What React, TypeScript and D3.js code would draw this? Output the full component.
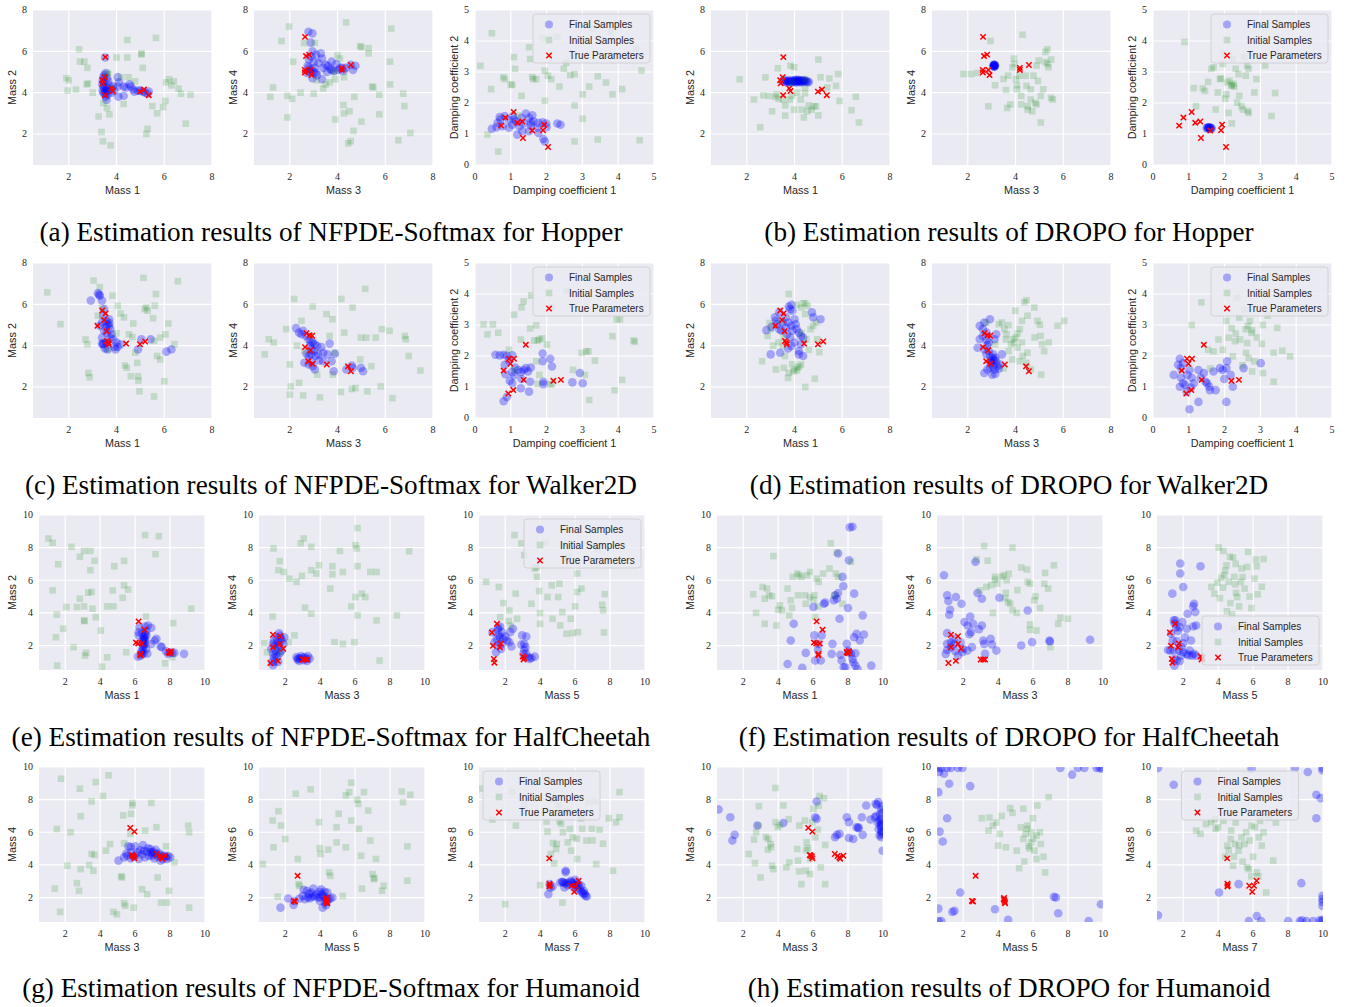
import React from "react";
import * as d3 from "d3";

type Pt = [number, number];

// ---- true parameters (shared by the NFPDE-Softmax / DROPO pairs) ----
const hopperTrueM12: Pt[] = [[3.53,5.72],[3.5,4.75],[3.4,4.6],[3.42,4.45],[3.78,4.2],[3.83,4.08],[3.52,3.88],[4.98,4.05],[5.15,4.15],[5.35,3.88]];
const hopperTrueM34: Pt[] = [[2.64,6.7],[2.68,5.77],[2.81,5.84],[2.63,5.1],[2.63,4.98],[2.86,5.1],[2.91,4.85],[4.18,5.2],[4.18,5.1],[4.56,5.34]];
const hopperTrueDamp: Pt[] = [[0.73,1.27],[0.85,1.53],[1.08,1.71],[1.18,1.36],[1.32,1.4],[1.34,0.87],[1.6,1.11],[1.93,1.3],[1.9,1.12],[2.04,0.58]];
const walkerTrueM12: Pt[] = [[3.4,5.7],[3.54,5.56],[3.48,5.24],[3.2,4.96],[3.58,4.7],[3.6,4.23],[3.66,4.15],[3.68,4.07],[4.4,4.1],[4.98,4.07],[5.2,4.2]];
const walkerTrueM34: Pt[] = [[2.7,4.6],[2.83,4.5],[2.94,4.48],[2.64,3.93],[2.86,3.78],[2.77,3.25],[2.95,3.13],[3.55,3.09],[4.44,3.0],[4.56,2.76]];
const walkerTrueDamp: Pt[] = [[0.8,1.53],[0.95,1.91],[1.09,1.91],[0.99,1.75],[0.93,0.79],[1.07,0.9],[1.42,2.36],[1.36,1.23],[2.19,1.2],[2.4,1.23]];
const cheetahTrueM12: Pt[] = [[6.2,3.48],[6.54,2.97],[6.05,2.18],[6.18,2.12],[6.38,2.12],[6.3,1.48],[6.3,1.4],[7.92,1.6],[8.0,1.52],[8.05,1.65],[7.95,1.55]];
const cheetahTrueM34: Pt[] = [[1.3,2.66],[1.3,1.9],[1.15,0.93],[1.58,1.06],[1.7,2.57],[1.7,2.1],[1.88,1.8],[3.0,1.14],[3.15,1.14],[3.25,1.14]];
const cheetahTrueM56: Pt[] = [[1.24,2.8],[1.53,3.33],[1.3,1.98],[1.35,1.18],[1.38,0.95],[1.7,1.9],[1.75,2.12],[3.0,1.33],[3.05,1.15],[3.1,1.25]];
const humanoidTrueM34: Pt[] = [[5.72,6.27],[5.96,6.04],[5.81,4.6],[5.93,4.52],[5.96,4.4],[5.86,4.57],[7.24,4.67],[7.4,4.54],[7.55,4.38],[7.73,4.56],[7.5,4.45]];
const humanoidTrueM56: Pt[] = [[2.71,3.33],[2.5,1.79],[2.56,1.76],[4.34,1.97],[4.36,1.82],[4.4,1.65],[4.32,1.9],[4.38,1.72]];
const humanoidTrueM78: Pt[] = [[4.52,4.4],[4.53,2.85],[4.53,2.68],[5.78,2.72],[5.95,2.35],[6.2,3.03],[6.05,2.72],[4.55,2.75]];

// ---- (a) NFPDE-Softmax, Hopper ----
const aFinal1: Pt[] = [[3.45,4.75],[3.42,4.6],[3.48,4.5],[3.4,4.4],[3.45,4.3],[3.5,4.2],[3.42,4.1],[3.55,4.05],[3.5,3.95],[3.55,3.8],[3.58,3.65],[3.48,4.85],[3.55,4.95],[3.6,4.7],[3.52,5.7],[3.65,4.55],[3.7,4.35],[3.6,4.25],[3.75,4.15],[3.85,4.3],[3.9,4.1],[3.8,4.0],[4.05,4.75],[4.1,4.5],[4.05,4.3],[4.08,3.8],[4.3,3.85],[4.3,4.3],[4.4,4.25],[4.55,4.4],[4.6,4.3],[4.7,4.15],[4.75,4.05],[4.9,4.1],[5.0,4.1],[5.1,4.05],[5.2,4.0],[5.3,3.95],[5.35,4.05],[3.45,4.0],[3.6,4.1],[3.62,3.9]];
const aInit1: Pt[] = [[1.9,4.7],[1.95,4.1],[2.0,4.6],[2.43,6.1],[2.47,5.5],[2.3,4.15],[2.65,5.5],[2.78,5.2],[2.75,4.4],[2.8,4.45],[3.0,4.0],[3.25,2.85],[3.37,2.1],[3.43,1.65],[3.45,3.5],[3.6,3.25],[3.7,2.95],[3.75,1.45],[3.65,4.9],[4.0,5.7],[4.45,6.55],[4.45,5.7],[4.3,3.45],[4.5,4.75],[4.78,4.55],[5.04,5.85],[5.05,5.9],[5.1,5.2],[5.3,2.25],[5.25,2.0],[5.65,6.65],[5.5,3.35],[5.7,3.0],[5.95,3.3],[6.05,3.6],[6.08,4.5],[6.2,4.65],[6.4,4.55],[6.3,4.35],[6.6,4.2],[6.7,3.95],[7.1,3.9],[6.9,2.5],[3.62,4.95],[3.85,4.2],[4.2,4.75]];
const aFinal2: Pt[] = [[2.78,6.95],[2.95,6.87],[2.88,6.42],[2.95,6.0],[3.1,5.85],[3.2,5.45],[3.3,5.9],[3.35,5.65],[3.5,5.35],[3.7,5.15],[3.75,5.1],[3.75,5.5],[3.95,5.4],[4.05,5.1],[4.1,5.2],[4.2,5.2],[4.35,5.2],[4.55,5.35],[4.65,5.1],[4.75,5.3],[3.35,4.65],[2.95,4.7],[3.15,4.85],[2.78,5.2],[2.85,5.0],[2.75,5.3],[2.8,5.05],[2.9,5.15],[3.0,5.0],[3.05,5.2],[3.1,4.95],[2.72,4.95],[3.4,5.2],[3.55,5.0],[3.6,5.3],[3.85,5.05],[4.25,5.05],[2.9,5.75],[2.8,5.6],[3.0,5.5]];
const aInit2: Pt[] = [[1.97,7.2],[1.65,6.5],[2.14,5.5],[2.6,6.4],[3.05,6.4],[1.3,4.25],[1.18,3.8],[1.9,3.85],[2.1,3.7],[1.9,2.8],[2.45,4.0],[3.0,3.95],[3.4,4.2],[3.66,4.5],[3.84,5.0],[4.0,5.8],[4.36,7.4],[4.1,5.65],[4.27,4.75],[4.25,3.4],[4.27,3.0],[4.5,3.1],[4.45,1.55],[4.55,1.65],[4.67,2.15],[4.7,3.8],[4.95,6.25],[5.0,6.2],[5.3,6.15],[5.3,5.9],[5.0,2.6],[5.45,4.3],[5.5,4.25],[5.75,2.95],[5.75,3.9],[6.25,7.1],[6.2,5.5],[6.2,4.4],[6.55,1.7],[6.75,3.95],[6.8,3.35],[7.05,2.05],[3.13,4.6],[3.9,4.65],[3.9,2.7],[3.5,4.4]];
const aFinal3: Pt[] = [[0.47,1.17],[0.63,1.36],[0.69,1.55],[0.83,1.58],[0.77,1.25],[0.95,1.45],[1.04,1.3],[1.09,1.47],[1.24,1.25],[1.3,1.52],[1.42,1.66],[1.51,1.52],[1.6,1.6],[1.56,1.36],[1.56,1.27],[1.75,1.2],[1.77,1.03],[1.89,1.38],[1.99,1.34],[2.0,1.22],[1.91,0.84],[1.95,0.76],[2.3,1.34],[2.39,1.3],[1.18,0.98],[1.32,1.09],[1.51,1.09],[1.06,1.58],[0.71,1.47],[0.95,1.2],[1.36,1.34],[1.63,1.41],[1.77,1.36],[0.6,1.22],[1.15,1.4]];
const aInit3: Pt[] = [[0.15,3.2],[0.47,4.25],[0.45,2.45],[0.35,0.98],[0.65,0.43],[0.79,2.83],[0.83,2.77],[1.0,2.6],[1.04,2.58],[1.09,3.48],[1.12,3.1],[1.3,2.23],[1.51,3.8],[1.54,3.42],[1.6,2.83],[1.63,2.77],[1.71,2.77],[1.89,4.1],[1.95,3.04],[1.95,2.07],[2.04,2.88],[2.13,2.77],[2.36,2.53],[2.48,3.1],[2.66,2.9],[2.78,2.93],[2.78,1.92],[2.78,0.76],[3.01,2.28],[3.01,1.49],[3.19,2.53],[3.3,4.4],[3.43,2.86],[3.43,0.82],[3.66,2.66],[3.84,2.28],[3.8,4.3],[4.11,2.45],[4.65,3.05],[4.6,0.8],[4.5,3.75],[2.3,4.13],[1.2,1.6],[2.55,3.3]];

// ---- (b) DROPO, Hopper ----
const bFinal1: Pt[] = [[3.55,4.6],[3.6,4.55],[3.65,4.58],[3.7,4.52],[3.75,4.56],[3.8,4.5],[3.85,4.55],[3.9,4.6],[3.95,4.53],[4.0,4.55],[4.05,4.5],[4.1,4.58],[4.15,4.62],[4.2,4.55],[4.25,4.5],[4.3,4.6],[4.35,4.55],[4.4,4.52],[4.45,4.58],[4.5,4.55],[4.55,4.5],[4.6,4.53],[4.0,4.6],[4.1,4.5],[4.2,4.6],[3.9,4.5],[4.3,4.52],[4.15,4.56],[3.75,4.6],[3.65,4.5],[4.05,4.62],[4.25,4.58],[4.4,4.6]];
const bInit1: Pt[] = [[1.7,4.65],[2.3,3.67],[2.56,2.33],[2.69,3.87],[2.78,4.74],[2.93,3.84],[3.06,3.1],[3.3,5.18],[3.24,3.92],[3.33,3.7],[3.52,3.67],[3.61,3.38],[3.61,2.89],[3.83,5.3],[3.8,3.67],[3.89,4.49],[3.89,3.84],[3.98,3.18],[3.98,5.23],[4.11,4.0],[4.26,3.67],[4.3,3.18],[4.39,2.8],[4.44,4.66],[4.44,4.25],[4.44,3.97],[4.59,3.38],[4.72,3.18],[4.81,3.34],[4.9,3.34],[5.0,5.6],[5.0,2.9],[5.09,4.75],[5.37,4.25],[5.46,4.69],[5.74,4.33],[5.83,4.9],[5.89,3.6],[6.39,3.15],[6.57,3.8],[6.7,2.56],[4.54,3.1],[3.2,3.8]];
const bFinal2: Pt[] = [[3.1,5.3],[3.12,5.35],[3.08,5.28],[3.11,5.32],[3.13,5.27],[3.09,5.36],[3.1,5.25],[3.12,5.3],[3.14,5.33],[3.07,5.31]];
const bInit2: Pt[] = [[1.82,4.9],[2.13,4.9],[2.4,4.95],[2.95,6.5],[3.14,4.36],[2.86,3.34],[3.5,4.66],[3.6,4.13],[3.69,4.82],[3.65,3.26],[3.78,3.43],[3.87,5.23],[3.93,5.65],[3.96,5.39],[4.02,4.66],[4.06,4.36],[4.06,4.16],[4.15,4.82],[4.24,3.84],[4.29,6.8],[4.42,4.82],[4.46,4.33],[4.51,3.34],[4.64,4.16],[4.64,3.67],[4.7,3.1],[4.75,4.82],[4.83,3.51],[4.88,5.31],[4.94,4.57],[4.97,5.56],[5.06,3.84],[5.16,4.16],[5.25,5.48],[5.25,5.97],[5.34,6.1],[5.34,5.39],[5.38,5.23],[5.49,5.6],[5.49,3.75],[5.56,3.67],[5.06,2.56],[4.51,3.18],[4.88,3.43],[4.24,3.43]];
const bFinal3: Pt[] = [[1.52,1.2],[1.55,1.18],[1.58,1.22],[1.6,1.19],[1.62,1.2],[1.56,1.21],[1.64,1.18],[1.5,1.19],[1.6,1.16],[1.54,1.22]];
const bInit3: Pt[] = [[0.88,3.97],[1.14,2.48],[1.2,1.9],[1.39,2.47],[1.45,2.39],[1.54,2.68],[1.63,3.1],[1.69,3.15],[1.75,1.79],[1.81,2.34],[1.87,2.77],[1.9,2.79],[1.95,3.26],[1.99,3.59],[2.02,2.14],[2.05,2.28],[2.07,2.66],[2.11,1.68],[2.14,2.72],[2.19,2.58],[2.2,1.34],[2.27,2.53],[2.31,3.1],[2.35,2.01],[2.39,2.93],[2.41,2.23],[2.47,1.9],[2.51,1.79],[2.55,3.48],[2.59,2.88],[2.63,3.21],[2.65,1.74],[2.67,1.68],[2.67,3.1],[2.83,2.34],[2.89,2.77],[3.13,3.21],[3.31,1.58],[3.41,2.32],[2.23,3.42],[2.2,2.55],[2.25,2.62]];

// ---- (c) NFPDE-Softmax, Walker2D ----
const cFinal1: Pt[] = [[2.92,6.18],[3.22,6.54],[3.27,6.47],[3.3,6.42],[3.39,6.18],[3.48,5.77],[3.44,5.45],[3.39,5.12],[3.57,5.2],[3.62,5.04],[3.69,4.96],[3.48,4.72],[3.39,4.39],[3.44,4.1],[3.51,3.87],[3.62,3.82],[3.74,4.39],[3.86,4.31],[3.91,3.94],[3.96,3.82],[4.05,3.94],[4.0,4.15],[4.17,4.07],[3.74,4.8],[3.79,4.55],[3.69,5.28],[3.3,4.96],[4.9,3.82],[5.04,4.31],[5.43,4.31],[6.09,3.71],[6.3,3.82],[3.57,4.15],[3.39,4.1],[3.44,4.06],[3.6,4.6],[3.7,5.1],[3.55,4.9]];
const cInit1: Pt[] = [[1.1,6.58],[1.65,5.04],[2.7,4.3],[2.78,4.07],[2.82,2.68],[2.87,2.47],[3.04,7.15],[3.3,6.83],[3.22,5.45],[3.65,3.82],[3.83,6.42],[4.05,5.93],[4.17,5.56],[4.31,5.37],[4.52,4.55],[4.35,3.04],[4.43,2.93],[4.6,2.52],[4.66,4.42],[4.78,3.66],[4.87,3.17],[4.9,2.52],[4.92,2.31],[4.96,1.79],[4.7,5.07],[5.13,7.28],[5.18,5.77],[5.25,5.85],[5.3,5.69],[5.53,5.33],[5.6,5.93],[5.65,6.5],[5.57,4.23],[5.57,1.54],[5.7,3.5],[5.83,3.33],[5.83,4.39],[6.05,4.55],[6.17,5.07],[6.0,2.28],[6.43,4.07],[6.57,7.12],[3.4,5.8],[4.0,4.6]];
const cFinal2: Pt[] = [[2.26,4.85],[2.39,4.63],[2.49,4.55],[2.56,4.72],[2.67,4.47],[2.79,4.31],[2.88,4.2],[2.96,4.15],[3.05,4.07],[3.14,3.98],[2.84,3.98],[2.91,3.82],[3.02,3.74],[2.7,3.61],[2.79,3.5],[2.88,3.58],[3.09,3.5],[3.19,3.58],[3.32,3.93],[3.4,3.66],[3.67,4.1],[3.58,3.58],[3.23,3.28],[3.4,3.25],[2.96,3.01],[3.05,2.85],[3.75,3.25],[3.89,3.61],[3.84,2.76],[4.37,2.85],[4.6,3.04],[4.63,2.93],[4.98,2.93],[5.07,2.76],[2.61,3.17],[2.79,3.09],[2.91,3.25]];
const cInit2: Pt[] = [[0.95,3.58],[1.12,4.31],[1.33,4.15],[2.18,6.26],[2.0,3.09],[2.04,2.03],[2.0,1.63],[2.39,2.2],[2.56,1.59],[2.61,3.74],[2.96,5.89],[3.26,1.5],[3.54,5.53],[3.67,4.47],[3.79,5.28],[3.89,3.66],[4.14,1.76],[4.16,6.26],[4.28,4.63],[4.63,5.85],[4.75,1.95],[4.95,3.33],[4.98,4.39],[5.16,6.75],[5.21,4.39],[5.25,1.79],[5.42,3.01],[5.6,4.39],[5.81,2.03],[5.86,4.8],[6.18,4.72],[6.3,1.46],[6.82,4.47],[6.86,4.31],[6.98,3.5],[7.47,2.8],[2.49,5.2],[2.3,4.0],[3.8,2.6],[4.6,1.9],[3.15,2.6],[1.85,4.8]];
const cFinal3: Pt[] = [[0.57,2.04],[0.69,2.02],[0.8,2.04],[0.89,2.01],[0.95,1.85],[0.83,1.72],[0.85,1.41],[1.12,1.63],[1.04,1.48],[1.21,1.55],[1.28,1.48],[1.36,1.55],[1.42,1.61],[1.48,1.5],[1.56,1.63],[0.97,1.2],[1.04,1.12],[1.28,0.96],[1.51,0.85],[0.8,0.54],[0.89,0.68],[1.54,1.17],[1.89,2.08],[1.89,1.83],[1.91,1.17],[1.91,1.09],[2.1,1.91],[2.15,1.66],[2.72,1.15],[2.93,1.45],[3.01,1.12],[1.09,1.37],[1.3,1.26],[1.04,2.02]];
const cInit3: Pt[] = [[0.24,3.02],[0.35,2.7],[0.5,3.02],[0.65,2.75],[1.09,3.33],[1.28,2.53],[1.3,3.57],[1.36,3.76],[1.54,2.89],[1.57,3.95],[1.65,2.5],[1.71,2.99],[1.75,2.5],[1.8,2.53],[1.87,2.57],[1.71,1.83],[1.8,1.39],[2.01,2.37],[2.1,1.09],[2.15,1.09],[2.74,1.55],[2.98,2.1],[3.07,1.39],[3.11,2.15],[3.17,2.15],[3.35,1.85],[3.19,0.58],[3.84,2.64],[3.9,0.9],[3.96,3.18],[4.05,3.18],[4.11,1.23],[4.43,2.5],[4.46,2.46],[2.15,3.57],[1.1,1.55],[0.95,2.2],[3.7,3.9],[2.55,4.1],[1.75,1.1]];

// ---- (d) DROPO, Walker2D ----
const dFinal1: Pt[] = [[2.82,4.75],[3.04,4.91],[3.18,5.37],[3.27,5.04],[3.36,5.61],[3.64,5.37],[3.76,5.89],[3.82,5.77],[3.87,5.98],[3.91,5.69],[4.0,5.28],[3.73,5.12],[3.87,4.96],[3.64,4.88],[3.45,4.72],[3.69,4.55],[3.82,4.39],[3.91,4.72],[4.09,4.8],[4.18,4.63],[4.27,4.47],[4.36,4.39],[4.0,4.15],[3.87,3.98],[3.73,3.87],[4.18,3.74],[4.27,4.07],[4.36,3.5],[4.18,3.58],[3.4,3.66],[3.0,3.58],[4.73,5.61],[4.78,5.37],[5.09,5.28],[3.22,5.2],[3.51,5.12],[3.36,4.8],[4.05,5.04]];
const dInit1: Pt[] = [[2.87,4.47],[2.64,3.25],[3.22,2.85],[3.55,4.39],[3.76,6.5],[4.0,2.85],[4.13,2.93],[3.76,2.68],[3.73,2.44],[4.27,3.09],[4.36,6.05],[4.45,6.05],[4.45,5.53],[4.55,5.93],[4.67,4.8],[4.78,4.96],[4.91,5.12],[4.95,4.31],[4.45,2.0],[4.85,2.4],[5.04,3.69],[4.27,5.85],[4.09,5.98],[3.51,3.98],[3.33,4.15],[3.45,5.2],[3.55,2.93],[4.1,2.8],[3.9,3.1],[3.95,2.75],[4.2,3.0],[4.3,4.6],[4.5,4.3],[3.0,4.8],[2.95,5.1],[3.6,3.5],[4.6,3.8],[3.1,4.0]];
const dFinal2: Pt[] = [[2.5,4.96],[2.63,4.8],[2.69,5.12],[2.93,5.28],[2.63,4.47],[2.5,4.31],[2.78,4.26],[2.82,4.03],[2.41,3.9],[2.69,3.82],[2.88,3.74],[2.78,3.58],[2.93,3.5],[3.06,3.58],[3.15,3.41],[2.97,3.28],[3.19,3.25],[3.25,3.01],[3.06,3.01],[2.93,2.93],[3.12,2.85],[3.3,2.89],[2.69,2.68],[3.02,2.6],[3.15,2.63],[2.82,2.85],[2.88,4.15],[3.12,4.31],[3.19,4.55],[3.34,3.09],[3.43,3.58],[2.78,4.63],[3.0,3.2],[3.1,3.3],[2.95,3.15],[3.05,3.4]];
const dInit2: Pt[] = [[2.78,5.12],[3.3,5.04],[3.43,5.12],[3.53,4.8],[3.62,4.55],[3.9,4.31],[3.81,4.07],[3.94,4.15],[4.09,3.9],[4.18,4.8],[4.09,4.59],[4.27,5.2],[3.99,5.69],[4.37,6.1],[4.46,6.2],[4.5,5.45],[4.79,5.85],[4.92,5.2],[5.02,5.01],[5.05,4.47],[5.11,4.07],[5.2,3.74],[4.5,3.66],[4.46,3.17],[3.86,3.33],[4.64,2.85],[5.07,2.6],[5.39,4.15],[5.76,4.96],[6.04,5.2],[3.15,4.07],[3.71,3.74],[4.18,3.25],[4.27,4.15],[3.6,4.3],[4.0,4.4],[4.3,3.5],[3.5,2.9],[4.8,4.4],[3.7,5.0]];
const dFinal3: Pt[] = [[0.58,1.39],[0.75,1.91],[0.84,1.77],[0.7,1.72],[0.78,1.61],[0.78,1.3],[0.84,1.12],[0.75,1.01],[0.9,1.07],[1.02,1.55],[0.96,1.39],[1.08,1.3],[1.14,1.12],[1.06,0.98],[0.94,0.85],[1.27,1.55],[1.42,1.45],[1.33,1.3],[1.47,1.17],[1.51,1.12],[1.57,1.01],[1.59,0.9],[1.75,0.9],[1.69,1.5],[1.87,1.61],[1.95,1.55],[1.99,1.26],[2.05,1.61],[2.07,1.83],[2.17,1.39],[2.23,1.01],[2.05,0.52],[1.27,0.52],[1.02,0.28],[2.53,1.61],[3.01,1.77]];
const dInit3: Pt[] = [[1.08,3.0],[1.35,3.73],[1.54,2.2],[1.69,2.15],[1.83,2.53],[2.05,3.13],[2.11,2.59],[2.23,1.99],[2.29,2.48],[2.31,2.72],[2.35,3.89],[2.41,3.24],[2.43,2.53],[2.59,2.86],[2.63,2.42],[2.65,2.97],[2.67,1.93],[2.71,3.13],[2.75,2.75],[2.77,2.83],[2.83,1.83],[2.77,1.5],[3.04,2.39],[3.07,3.0],[3.07,1.45],[3.37,2.1],[3.47,2.91],[3.37,1.17],[3.61,2.17],[3.83,1.99],[2.5,1.7],[2.2,2.9],[1.95,2.2],[2.9,2.6],[2.55,3.5],[3.2,3.3],[1.6,1.6],[2.6,2.1]];

// ---- (e) NFPDE-Softmax, HalfCheetah ----
const eFinal1: Pt[] = [[6.16,1.32],[6.33,1.38],[6.4,1.69],[6.45,1.9],[6.45,2.35],[6.5,2.55],[6.4,2.76],[6.57,2.72],[6.57,2.47],[6.64,2.62],[6.45,2.2],[6.45,2.06],[6.57,2.1],[6.64,1.79],[6.2,2.82],[6.25,3.13],[6.57,3.17],[6.74,3.23],[6.93,3.09],[6.4,1.49],[6.5,1.53],[6.93,2.1],[7.12,2.31],[7.22,2.41],[7.46,1.94],[7.53,1.9],[7.77,1.65],[7.89,1.49],[8.01,1.59],[8.13,1.53],[8.25,1.55],[8.8,1.49],[6.2,2.62],[6.64,2.88],[6.5,2.4],[6.55,2.3],[6.35,1.6],[6.7,1.5],[6.5,2.0]];
const eInit1: Pt[] = [[1.04,8.56],[1.28,8.3],[1.6,6.98],[1.28,5.38],[1.52,3.89],[1.47,2.51],[1.54,0.77],[1.88,3.03],[2.07,4.36],[2.36,8.05],[2.48,1.9],[2.84,7.44],[2.84,4.87],[2.67,4.36],[3.08,7.8],[3.08,4.4],[3.08,3.54],[3.13,1.38],[3.2,1.55],[3.32,5.24],[3.51,5.28],[3.44,6.62],[3.44,7.8],[3.56,4.26],[3.68,7.19],[3.75,3.74],[4.04,2.92],[4.11,0.7],[4.4,4.4],[4.4,1.28],[4.76,4.4],[4.72,5.38],[4.81,6.86],[5.29,4.93],[5.37,5.69],[5.37,7.19],[5.6,5.43],[5.49,1.59],[6.57,8.77],[6.62,3.78],[7.17,7.6],[7.36,8.7],[7.72,0.91],[8.18,3.37],[9.21,4.26],[8.13,1.28],[3.1,3.5]];
const eFinal2: Pt[] = [[1.2,1.8],[1.3,2.1],[1.35,2.3],[1.4,2.0],[1.45,1.7],[1.3,1.5],[1.35,1.25],[1.4,1.0],[1.3,0.8],[1.5,2.5],[1.55,2.2],[1.6,1.9],[1.65,2.75],[1.7,2.6],[1.75,2.45],[1.8,2.3],[1.65,2.05],[1.9,2.1],[1.95,2.5],[1.8,1.7],[1.7,1.55],[1.55,1.35],[1.45,1.45],[2.65,1.3],[2.7,1.15],[2.75,1.2],[2.8,1.05],[2.9,1.35],[3.0,1.25],[3.05,1.1],[3.1,1.3],[3.2,1.2],[3.25,1.05],[3.3,1.35],[3.4,1.2],[2.85,1.2],[1.25,1.0],[1.6,1.0]];
const eInit2: Pt[] = [[0.8,2.14],[0.96,1.59],[1.28,3.78],[1.33,7.95],[1.61,6.62],[1.69,7.17],[1.93,6.51],[2.24,6.1],[2.53,2.62],[2.65,5.9],[2.89,8.26],[2.96,6.27],[3.06,8.56],[3.13,4.32],[3.49,8.05],[3.49,6.62],[3.78,6.41],[3.93,6.92],[3.49,3.95],[4.58,5.49],[4.82,2.21],[4.7,6.86],[4.7,6.37],[5.13,7.8],[5.3,6.51],[5.3,2.1],[5.78,4.4],[6.02,8.15],[6.02,4.97],[5.95,2.2],[6.1,7.95],[6.14,9.2],[6.14,6.86],[6.14,3.85],[6.39,5.18],[6.58,4.97],[6.87,6.51],[7.23,6.51],[7.23,3.54],[7.4,1.08],[8.39,3.85],[9.09,7.78],[2.2,2.2],[1.7,1.6]];
const eFinal3: Pt[] = [[1.27,2.82],[1.59,2.96],[1.71,3.17],[1.81,2.82],[1.64,2.62],[1.52,2.41],[1.39,2.2],[1.81,2.1],[1.88,2.41],[2.0,2.55],[2.12,2.31],[2.24,2.2],[2.29,2.82],[2.44,3.03],[2.36,1.94],[1.76,1.79],[1.47,1.59],[2.92,2.06],[3.09,2.1],[3.16,1.9],[3.04,1.49],[3.21,1.49],[3.33,1.28],[3.5,1.24],[3.69,1.32],[2.97,2.62],[3.21,2.55],[3.4,1.18],[3.09,1.73],[1.6,3.1],[1.7,2.5],[1.55,2.0]];
const eInit3: Pt[] = [[0.91,5.9],[1.64,5.59],[1.71,3.74],[2.24,4.15],[2.31,3.23],[2.53,8.77],[2.6,5.18],[2.68,3.64],[2.92,8.26],[3.09,7.54],[3.5,4.56],[3.69,6.72],[3.82,6.21],[3.94,5.34],[3.99,3.99],[3.99,3.33],[4.42,4.97],[4.66,5.69],[4.71,3.64],[5.03,4.97],[5.1,5.79],[5.15,3.23],[5.27,4.05],[5.51,2.72],[5.75,3.64],[6.0,4.4],[6.12,5.28],[6.12,6.41],[6.36,5.49],[5.87,2.76],[6.17,2.82],[7.55,4.5],[7.6,4.15],[7.65,2.8],[7.7,5.15],[3.8,6.8],[5.6,7.4],[4.3,8.3],[7.3,7.9],[1.9,4.6],[2.2,3.5]];

// ---- (f) DROPO, HalfCheetah ----
const fFinal1: Pt[] = [[4.54,0.87],[4.72,2.31],[4.89,3.33],[5.38,0.63],[5.58,1.55],[6.02,4.36],[6.07,2.62],[6.12,1.08],[6.27,1.73],[6.44,1.08],[6.49,2.62],[6.62,4.56],[6.69,4.63],[7.06,1.49],[7.11,2.1],[7.19,4.77],[7.26,5.08],[7.36,4.87],[7.43,7.64],[7.43,5.22],[7.51,3.64],[7.56,1.43],[7.63,1.08],[7.68,6.21],[7.73,5.63],[7.75,0.67],[7.85,0.67],[7.93,2.1],[8.0,4.3],[8.0,1.69],[8.05,1.59],[8.05,7.23],[8.1,9.24],[8.25,9.28],[8.17,1.49],[8.25,1.18],[8.3,0.97],[8.35,5.18],[8.35,2.51],[8.42,0.77],[8.49,2.72],[8.54,0.56],[8.67,2.31],[8.84,3.85],[8.91,2.68],[9.33,0.77],[8.42,1.53],[6.3,2.1]];
const fInit1: Pt[] = [[2.57,5.14],[2.74,4.0],[3.11,5.59],[3.23,4.87],[3.23,3.33],[3.36,5.49],[3.48,5.08],[3.65,5.02],[3.73,7.48],[3.9,3.23],[4.1,4.46],[4.22,4.15],[4.54,5.49],[4.64,3.85],[4.72,4.77],[4.79,4.31],[4.84,6.21],[5.09,6.41],[5.14,5.08],[5.21,6.31],[5.33,6.21],[5.53,5.08],[5.58,4.56],[5.65,6.31],[5.83,6.51],[5.83,4.97],[6.02,4.8],[6.07,5.08],[6.12,3.74],[6.2,6.1],[6.32,5.9],[6.57,6.41],[6.94,6.72],[7.01,8.26],[7.26,5.08],[7.31,6.41],[7.36,7.69],[7.43,6.21],[7.68,4.56],[8.17,7.13],[6.3,4.4],[4.0,4.2]];
const fFinal2: Pt[] = [[0.9,6.31],[1.08,5.08],[1.15,4.73],[1.25,4.19],[1.2,3.89],[1.08,2.76],[1.08,2.1],[1.08,1.73],[1.0,1.49],[1.45,2.41],[1.5,2.1],[1.58,4.97],[1.9,4.56],[1.95,1.59],[2.07,3.44],[2.25,3.23],[2.25,1.69],[2.4,3.78],[2.45,2.82],[2.5,1.9],[2.57,3.33],[2.7,7.13],[2.82,5.22],[3.07,3.23],[3.07,4.87],[3.15,2.31],[3.2,2.1],[3.25,1.49],[3.57,2.41],[3.65,2.06],[3.9,1.69],[4.07,4.93],[5.32,2.0],[5.69,4.15],[5.94,2.21],[6.94,2.31],[6.96,2.25],[9.26,2.35],[1.7,1.38],[1.3,2.2],[1.85,2.2],[2.0,1.8],[1.55,1.65],[2.35,2.7],[2.9,3.0],[1.3,1.9]];
const fInit2: Pt[] = [[2.77,7.29],[3.2,8.1],[3.4,7.2],[2.95,5.38],[3.32,5.59],[3.82,6.21],[3.82,6.04],[3.95,5.79],[4.19,6.21],[4.32,6.31],[4.49,6.0],[4.44,5.22],[4.57,4.66],[4.69,4.56],[4.82,8.0],[4.82,4.15],[5.07,4.0],[5.32,6.78],[5.64,6.66],[5.69,5.9],[5.82,5.79],[5.82,3.29],[5.82,2.96],[6.07,4.77],[6.14,5.02],[6.19,2.92],[6.64,5.79],[6.69,6.45],[6.86,5.49],[7.19,6.92],[7.44,3.33],[7.56,3.7],[7.99,3.64],[6.99,1.9],[4.4,4.9],[3.6,5.7],[5.1,5.4],[4.6,6.4],[3.7,4.0],[6.4,4.3]];
const fFinal3: Pt[] = [[1.83,7.03],[1.83,6.41],[2.0,5.59],[1.38,5.18],[2.99,6.86],[2.25,3.95],[2.57,4.4],[2.62,4.56],[2.69,4.05],[1.46,3.54],[1.55,3.54],[1.8,3.13],[1.95,3.44],[2.74,3.23],[2.2,3.03],[1.31,2.72],[1.63,2.27],[2.0,2.14],[2.45,2.31],[1.26,1.69],[1.46,1.69],[1.75,1.69],[2.0,1.59],[2.2,1.49],[2.5,1.38],[2.74,1.38],[1.5,1.18],[1.63,1.08],[1.8,1.04],[1.5,0.77],[2.57,3.17],[2.37,1.69],[1.13,1.73],[1.88,1.38],[1.6,3.1],[1.7,2.9],[1.5,3.35],[2.1,2.5],[2.3,1.4],[1.4,2.3],[1.9,1.9],[2.6,1.5]];
const fInit3: Pt[] = [[3.61,5.59],[4.03,8.01],[3.78,5.18],[4.18,6.16],[4.35,6.31],[4.28,5.55],[4.48,6.92],[4.67,7.44],[4.85,7.39],[4.92,6.21],[4.97,5.75],[5.02,5.22],[5.09,4.97],[5.34,6.72],[5.51,5.49],[5.66,6.82],[5.71,7.74],[6.08,6.1],[6.16,7.27],[6.21,6.86],[6.26,5.14],[4.5,4.1],[4.7,4.6],[4.1,4.9],[5.2,4.4],[4.6,5.9],[5.4,6.2],[3.95,5.85],[4.4,6.6],[5.8,5.0],[5.9,4.3],[6.5,5.6],[4.8,3.9],[5.0,7.0],[4.3,7.8],[5.5,3.4],[4.9,3.0],[6.6,7.3],[5.3,5.9]];

// ---- (g) NFPDE-Softmax, Humanoid ----
const gFinal1: Pt[] = [[5.05,4.26],[5.37,4.46],[5.53,4.56],[5.61,5.14],[5.75,5.1],[6.01,5.14],[6.16,4.77],[6.3,4.9],[6.45,5.22],[6.5,4.87],[6.69,4.81],[6.74,5.02],[6.88,4.97],[6.93,4.77],[6.98,4.56],[7.05,4.8],[7.17,4.93],[7.25,4.65],[7.36,4.73],[7.5,4.6],[7.65,4.56],[7.75,4.5],[7.84,4.36],[7.89,4.56],[8.01,4.46],[7.46,4.26],[7.3,4.5],[6.57,4.46],[6.21,4.36],[5.77,4.77],[5.9,4.5],[5.75,4.4],[6.4,4.65],[6.8,4.55],[7.1,4.4],[7.6,4.35],[7.0,4.7],[5.5,4.7],[6.0,4.6]];
const gInit1: Pt[] = [[1.4,2.55],[1.52,6.2],[1.71,1.12],[1.76,9.28],[2.12,3.95],[2.31,6.0],[2.67,2.88],[2.79,2.41],[2.84,8.67],[2.89,3.74],[2.89,6.98],[3.37,3.99],[3.51,7.89],[3.51,4.67],[3.61,3.64],[3.68,4.61],[3.75,9.08],[4.16,8.22],[4.33,4.87],[4.57,5.28],[4.48,9.49],[4.76,1.12],[4.96,0.97],[5.25,3.23],[5.32,7.03],[5.37,5.33],[5.37,1.65],[5.44,1.49],[5.73,5.9],[5.77,7.13],[5.85,7.8],[5.92,1.38],[6.4,2.51],[6.57,6.1],[6.69,2.2],[6.93,7.8],[7.22,6.31],[7.29,3.23],[7.48,1.69],[7.77,5.14],[7.84,1.69],[7.94,2.41],[8.25,4.15],[9.04,6.41],[9.09,6.0],[9.09,1.38],[5.85,7.65],[5.2,3.3]];
const gFinal2: Pt[] = [[1.73,1.38],[2.17,1.94],[2.48,1.55],[3.01,2.1],[3.06,2.47],[3.25,2.41],[3.37,2.21],[3.49,2.31],[3.61,2.55],[3.69,2.1],[3.98,2.35],[4.05,2.51],[4.1,2.21],[4.17,2.1],[4.27,1.69],[4.34,1.53],[4.41,2.31],[4.46,1.9],[4.58,1.94],[4.7,2.0],[4.14,1.38],[2.82,1.94],[3.13,1.9],[3.86,2.0],[3.98,1.79],[3.42,1.94],[2.53,1.79],[3.8,2.2],[4.3,2.0],[4.25,2.35],[3.55,2.05],[4.4,1.75],[3.3,2.0],[4.0,2.0]];
const gInit2: Pt[] = [[0.72,4.05],[1.28,6.72],[1.33,5.08],[1.57,2.06],[1.61,7.29],[1.76,6.41],[2.0,5.59],[2.6,8.36],[2.72,4.36],[2.77,2.82],[2.82,2.72],[3.45,8.63],[3.93,6.62],[3.98,5.02],[4.02,4.67],[4.46,4.93],[4.51,3.54],[4.58,3.33],[4.94,5.38],[5.06,7.13],[4.94,6.31],[5.3,2.1],[5.47,5.08],[5.47,8.26],[5.66,8.46],[5.78,6.72],[5.78,9.04],[6.12,8.0],[6.17,7.74],[6.22,6.21],[6.34,4.56],[6.39,2.55],[6.51,8.46],[6.75,7.33],[6.87,5.49],[7.0,3.44],[7.07,3.13],[7.19,4.36],[7.54,2.41],[7.64,2.72],[8.67,8.5],[8.74,7.84],[8.99,5.14],[8.99,3.03],[9.16,8.3],[7.1,3.2]];
const gFinal3: Pt[] = [[4.47,2.21],[4.54,2.82],[4.71,2.68],[5.15,2.92],[5.27,2.96],[5.39,2.88],[5.46,3.64],[5.46,3.55],[5.58,2.76],[5.63,2.92],[5.75,3.03],[5.87,2.88],[5.92,2.62],[6.07,2.76],[6.12,2.92],[6.16,2.51],[6.31,2.41],[6.36,2.72],[6.41,2.31],[6.48,2.21],[6.6,2.1],[6.67,2.06],[5.39,2.62],[6.0,3.09],[5.51,2.88],[6.2,2.8],[5.8,2.95],[6.25,2.6],[6.5,2.4],[6.55,2.25],[5.95,2.75],[4.6,2.6],[5.3,2.95]];
const gInit3: Pt[] = [[0.6,8.67],[1.27,6.78],[2.0,1.59],[2.61,6.41],[4.0,2.76],[4.37,6.66],[4.42,6.04],[4.61,4.67],[4.66,8.05],[4.74,5.34],[4.91,4.97],[4.95,5.28],[5.03,7.64],[5.1,6.66],[5.2,6.51],[5.27,1.69],[5.58,5.38],[5.77,4.87],[5.87,5.69],[6.12,4.36],[6.41,6.21],[6.65,5.49],[6.79,7.85],[6.96,6.21],[7.21,4.05],[7.93,6.86],[8.17,3.64],[8.34,6.62],[8.54,8.46],[8.54,6.92],[5.7,6.2],[5.3,6.0],[7.15,7.9],[6.35,6.85],[7.4,6.15],[7.6,5.3],[6.1,5.6],[4.8,4.1],[5.5,7.3],[7.0,5.5],[3.1,7.7],[2.4,8.5]];

// ---- (h) DROPO, Humanoid ----
const hFinal1: Pt[] = [[0.59,7.4],[1.26,6.92],[1.38,5.49],[1.51,5.84],[2.81,6.41],[4.3,6.57],[6.2,7.89],[6.12,6.92],[6.2,6.82],[7.26,5.69],[7.36,5.84],[7.51,5.9],[7.93,6.92],[8.05,6.62],[8.05,5.65],[8.3,5.59],[8.49,6.31],[8.59,6.25],[8.79,6.92],[8.84,5.84],[9.04,7.64],[9.28,6.78],[9.53,6.92],[9.58,7.74],[9.65,7.68],[9.73,7.85],[9.83,7.13],[9.9,6.82],[9.9,6.51],[9.9,6.31],[9.9,6.1],[9.9,5.9],[9.9,5.69],[9.78,6.72],[9.98,4.87],[9.95,7.2],[9.92,6.65],[9.85,6.4],[9.95,6.0],[9.8,5.8],[9.7,6.6],[9.6,7.0],[9.97,7.6],[9.9,7.4],[9.75,6.2],[8.6,6.3]];
const hInit1: Pt[] = [[2.32,4.67],[2.67,4.11],[2.86,6.41],[2.74,6.0],[2.62,5.55],[2.99,3.23],[3.41,4.93],[3.43,5.59],[3.56,5.28],[3.6,5.08],[3.65,3.95],[3.73,3.74],[3.85,8.71],[3.85,6.62],[3.98,6.31],[4.1,6.45],[4.3,7.64],[4.47,3.85],[4.64,4.15],[5.09,4.97],[5.14,4.26],[5.21,6.41],[5.33,2.82],[5.53,6.72],[5.58,3.64],[5.63,5.38],[5.7,5.02],[5.83,3.44],[5.83,4.36],[5.95,6.62],[6.02,7.44],[6.12,5.69],[6.27,6.16],[6.32,7.64],[6.37,8.22],[6.44,3.85],[6.62,8.09],[6.69,5.22],[6.69,2.82],[2.9,7.6],[3.3,5.7],[5.2,3.6],[5.6,4.9],[4.6,6.8]];
const hFinal2: Pt[] = [[0.58,9.94],[0.75,9.94],[1.08,9.94],[0.9,9.59],[0.58,8.46],[0.65,6.04],[0.83,5.43],[1.08,6.86],[1.2,8.97],[1.7,9.94],[1.95,9.94],[2.4,8.83],[0.58,1.32],[0.58,0.56],[0.75,0.56],[1.38,1.12],[1.5,1.18],[1.83,2.31],[3.82,1.28],[4.57,0.63],[7.19,2.04],[7.31,2.0],[7.44,1.04],[7.56,9.94],[8.23,9.53],[8.56,9.94],[8.93,9.94],[9.18,0.56],[9.63,9.94],[9.8,9.94],[9.93,9.9],[9.88,1.59],[0.62,9.7],[1.3,9.94]];
const hInit2: Pt[] = [[3.07,6.86],[3.45,6.1],[3.7,6.41],[4.0,5.18],[4.44,5.08],[4.69,7.48],[4.82,7.19],[5.07,4.87],[5.44,7.44],[5.57,5.9],[5.64,6.21],[5.69,6.41],[5.74,5.14],[5.89,5.38],[5.99,6.86],[6.07,4.87],[6.19,4.36],[6.24,7.64],[6.39,6.0],[6.44,5.28],[6.69,3.54],[6.89,8.15],[5.44,5.59],[3.9,6.6],[4.2,7.0],[5.3,6.3],[5.8,5.0],[6.0,5.6],[6.2,5.8],[4.1,5.9],[5.2,3.8],[6.6,4.5],[5.9,6.0],[5.5,4.2],[3.5,6.9]];
const hFinal3: Pt[] = [[0.56,9.94],[0.56,0.91],[1.46,8.91],[5.91,9.9],[9.13,9.69],[9.62,8.3],[9.62,6.86],[9.87,8.09],[9.97,9.94],[9.97,2.1],[9.97,1.73],[9.97,1.49],[9.97,0.63],[9.43,0.56],[9.05,0.56],[8.68,0.56],[8.01,0.56],[6.21,0.87],[6.46,0.56],[5.76,0.56],[5.17,2.82],[4.05,2.31],[8.76,2.88],[8.39,9.94],[9.92,0.56],[9.97,1.9],[9.8,0.6],[8.8,0.6],[9.97,9.8]];
const hInit3: Pt[] = [[2.74,6.1],[2.99,5.9],[3.61,6.62],[3.86,6.21],[4.52,5.18],[4.72,5.59],[4.85,3.95],[4.97,5.28],[5.17,4.87],[5.34,5.69],[5.51,5.28],[5.66,3.85],[5.76,3.74],[5.91,6.41],[6.21,3.54],[6.33,5.69],[6.5,5.18],[6.75,2.31],[7.15,4.26],[3.3,6.5],[4.0,6.3],[4.3,6.7],[4.6,4.9],[4.75,6.1],[5.0,6.6],[5.2,5.2],[5.6,6.0],[5.8,5.5],[6.0,4.5],[6.1,6.3],[6.4,6.7],[6.6,6.0],[5.4,4.2],[4.4,4.5],[5.9,3.3],[6.9,6.9],[7.3,6.6],[3.8,6.8],[4.9,4.5],[6.3,3.3]];

const legendLabels = ["Final Samples", "Initial Samples", "True Parameters"];
const captions = [
  "(a) Estimation results of NFPDE-Softmax for Hopper",
  "(b) Estimation results of DROPO for Hopper",
  "(c) Estimation results of NFPDE-Softmax for Walker2D",
  "(d) Estimation results of DROPO for Walker2D",
  "(e) Estimation results of NFPDE-Softmax for HalfCheetah",
  "(f) Estimation results of DROPO for HalfCheetah",
  "(g) Estimation results of NFPDE-Softmax for Humanoid",
  "(h) Estimation results of DROPO for Humanoid",
];

const BG = "#eaeaf2";
const INK = "#262626";
const TICK_FONT = "'Liberation Serif', 'Times New Roman', serif";
const LABEL_FONT = "'Liberation Sans', Arial, sans-serif";

type Legend = "ur" | "lr" | "ul" | "uc" | null;
interface PanelSpec {
  id: string;
  left: number; top: number; w: number; h: number;
  xDomain: [number, number]; yDomain: [number, number];
  ticks: number[];
  xLabel: string; yLabel: string; yLabelGap: number;
  final: Pt[]; init: Pt[]; truth: Pt[];
  legend: Legend;
}

const smallMass: [number, number] = [0.5, 8];
const bigMass: [number, number] = [0.5, 10];
const damp: [number, number] = [0, 5];

const buildPanels = (): PanelSpec[] => {
  const rowTops = [10, 263, 515, 767];
  const list: PanelSpec[] = [];
  const groups = [
    { row: 0, side: 0, sets: [[aFinal1, aInit1, hopperTrueM12], [aFinal2, aInit2, hopperTrueM34], [aFinal3, aInit3, hopperTrueDamp]], legend: "ur" },
    { row: 0, side: 1, sets: [[bFinal1, bInit1, hopperTrueM12], [bFinal2, bInit2, hopperTrueM34], [bFinal3, bInit3, hopperTrueDamp]], legend: "ur" },
    { row: 1, side: 0, sets: [[cFinal1, cInit1, walkerTrueM12], [cFinal2, cInit2, walkerTrueM34], [cFinal3, cInit3, walkerTrueDamp]], legend: "ur" },
    { row: 1, side: 1, sets: [[dFinal1, dInit1, walkerTrueM12], [dFinal2, dInit2, walkerTrueM34], [dFinal3, dInit3, walkerTrueDamp]], legend: "ur" },
    { row: 2, side: 0, sets: [[eFinal1, eInit1, cheetahTrueM12], [eFinal2, eInit2, cheetahTrueM34], [eFinal3, eInit3, cheetahTrueM56]], legend: "ur" },
    { row: 2, side: 1, sets: [[fFinal1, fInit1, cheetahTrueM12], [fFinal2, fInit2, cheetahTrueM34], [fFinal3, fInit3, cheetahTrueM56]], legend: "lr" },
    { row: 3, side: 0, sets: [[gFinal1, gInit1, humanoidTrueM34], [gFinal2, gInit2, humanoidTrueM56], [gFinal3, gInit3, humanoidTrueM78]], legend: "ul" },
    { row: 3, side: 1, sets: [[hFinal1, hInit1, humanoidTrueM34], [hFinal2, hInit2, humanoidTrueM56], [hFinal3, hInit3, humanoidTrueM78]], legend: "uc" },
  ];
  groups.forEach((g, gi) => {
    const big = g.row >= 2;
    const lefts = big
      ? (g.side === 0 ? [39, 259, 479] : [717, 937, 1157])
      : (g.side === 0 ? [33, 254, 475] : [711, 932, 1153]);
    const w = big ? 166 : 179;
    const labels: [string, string][] = g.row === 0 || g.row === 1
      ? [["Mass 1", "Mass 2"], ["Mass 3", "Mass 4"], ["Damping coefficient 1", "Damping coefficient 2"]]
      : g.row === 2
        ? [["Mass 1", "Mass 2"], ["Mass 3", "Mass 4"], ["Mass 5", "Mass 6"]]
        : [["Mass 3", "Mass 4"], ["Mass 5", "Mass 6"], ["Mass 7", "Mass 8"]];
    g.sets.forEach((s, k) => {
      const isDamp = !big && k === 2;
      const dom = big ? bigMass : isDamp ? damp : smallMass;
      list.push({
        id: `p${gi}_${k}`,
        left: lefts[k], top: rowTops[g.row], w, h: 155,
        xDomain: dom, yDomain: dom,
        ticks: big ? [2, 4, 6, 8, 10] : isDamp ? [0, 1, 2, 3, 4, 5] : [2, 4, 6, 8],
        xLabel: labels[k][0], yLabel: labels[k][1], yLabelGap: big ? 27 : 21,
        final: s[0] as Pt[], init: s[1] as Pt[], truth: s[2] as Pt[],
        legend: k === 2 ? (g.legend as Legend) : null,
      });
    });
  });
  return list;
};

const Cross = ({ x, y, s = 2.7, sw = 1.5 }: { x: number; y: number; s?: number; sw?: number }) => (
  <path d={`M${x - s},${y - s}L${x + s},${y + s}M${x - s},${y + s}L${x + s},${y - s}`} stroke="#ff0000" strokeWidth={sw} fill="none" />
);

const Panel = ({ p }: { p: PanelSpec }) => {
  const x = d3.scaleLinear().domain(p.xDomain).range([p.left, p.left + p.w]);
  const y = d3.scaleLinear().domain(p.yDomain).range([p.top + p.h, p.top]);
  const bottom = p.top + p.h;
  const lw = 117, lh = 49;
  let lx = 0, ly = 0;
  if (p.legend === "ur") { lx = p.left + p.w - lw - 4; ly = p.top + 4; }
  if (p.legend === "lr") { lx = p.left + p.w - lw - 4; ly = bottom - lh - 5; }
  if (p.legend === "ul") { lx = p.left + 4; ly = p.top + 4; }
  if (p.legend === "uc") { lx = p.left + (p.w - lw) / 2; ly = p.top + 4; }
  return (
    <g>
      <defs>
        <clipPath id={`clip-${p.id}`}>
          <rect x={p.left} y={p.top} width={p.w} height={p.h} />
        </clipPath>
      </defs>
      <rect x={p.left} y={p.top} width={p.w} height={p.h} fill={BG} />
      {p.ticks.map((t) => (
        <g key={`g${t}`}>
          <line x1={x(t)} x2={x(t)} y1={p.top} y2={bottom} stroke="#fff" strokeWidth={1.2} />
          <line x1={p.left} x2={p.left + p.w} y1={y(t)} y2={y(t)} stroke="#fff" strokeWidth={1.2} />
        </g>
      ))}
      <g clipPath={`url(#clip-${p.id})`}>
        {p.final.map((d, i) => (
          <circle key={`f${i}`} cx={x(d[0])} cy={y(d[1])} r={4.3} fill="#0000ff" fillOpacity={0.3} />
        ))}
        {p.init.map((d, i) => (
          <rect key={`i${i}`} x={x(d[0]) - 3.3} y={y(d[1]) - 3.3} width={6.6} height={6.6} fill="#008000" fillOpacity={0.17} />
        ))}
        {p.truth.map((d, i) => (
          <Cross key={`t${i}`} x={x(d[0])} y={y(d[1])} />
        ))}
      </g>
      {p.ticks.map((t) => (
        <g key={`l${t}`} fontFamily={TICK_FONT} fontSize={10} fill={INK}>
          <text x={x(t)} y={bottom + 15} textAnchor="middle">{t}</text>
          <text x={p.left - 6} y={y(t) + 3.4} textAnchor="end">{t}</text>
        </g>
      ))}
      <text x={p.left + p.w / 2} y={bottom + 29} textAnchor="middle" fontFamily={LABEL_FONT} fontSize={10.8} fill={INK}>{p.xLabel}</text>
      <text transform={`translate(${p.left - p.yLabelGap + 3.5},${p.top + p.h / 2}) rotate(-90)`} textAnchor="middle" fontFamily={LABEL_FONT} fontSize={10.8} fill={INK}>{p.yLabel}</text>
      {p.legend && (
        <g>
          <rect x={lx} y={ly} width={lw} height={lh} rx={3} fill={BG} fillOpacity={0.8} stroke="#cccccc" strokeWidth={0.8} />
          <circle cx={lx + 16} cy={ly + 10.5} r={4} fill="#0000ff" fillOpacity={0.3} />
          <rect x={lx + 12.7} y={ly + 22.7} width={6.6} height={6.6} fill="#008000" fillOpacity={0.17} />
          <Cross x={lx + 16} y={ly + 41.5} />
          {legendLabels.map((t, i) => (
            <text key={t} x={lx + 36} y={ly + 14 + i * 15.5} fontFamily={LABEL_FONT} fontSize={10} fill={INK}>{t}</text>
          ))}
        </g>
      )}
    </g>
  );
};

export default function App() {
  const panels = buildPanels();
  const capRows = [241, 494, 746, 997];
  return (
    <svg width={1356} height={1007} style={{ position: "absolute", left: 0, top: 0, background: "#fff" }}>
      {panels.map((p) => <Panel key={p.id} p={p} />)}
      {captions.map((c, i) => (
        <text key={c} x={i % 2 === 0 ? 331 : 1009} y={capRows[Math.floor(i / 2)]} textAnchor="middle"
          fontFamily="'Liberation Serif', 'Times New Roman', serif" fontSize={27.2} fill="#000">{c}</text>
      ))}
    </svg>
  );
}
